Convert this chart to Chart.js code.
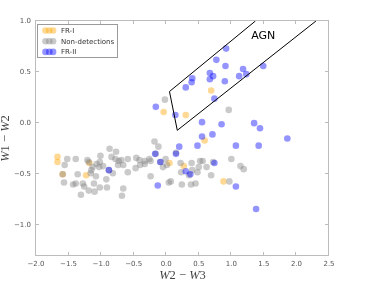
<!DOCTYPE html>
<html lang="en">
<head>
<meta charset="UTF-8">
<title>WISE colour-colour diagram</title>
<script src="https://cdn.jsdelivr.net/npm/chart.js"></script>
<style>
  html, body { margin: 0; padding: 0; background: #fff; }
</style>
</head>
<body>
<canvas id="wiseChart" width="367" height="286"></canvas>
<script>
// FR-I sources
const frIx = [0.69, -0.04, 0.30, 0.59, 0.05, 0.27, 0.88, -1.67, -1.67, -1.18, -1.59, -1.23];
const frIy = [0.32, 0.11, 0.08, -0.17, -0.39, -0.42, -0.57, -0.33, -0.38, -0.39, -0.50, -0.51];

// Non-detections
const nondetX = [-0.02, -0.18, 0.96,
  1.00, 0.52, 0.56, 0.39, 0.72, 1.14, 1.19, 0.62, 0.50, 0.48, 0.40, 0.69, 0.97, 0.45, 0.38, 0.35,
  -0.12, -0.77, -0.59, -0.69, -0.73, -0.46, -0.41, -0.33, -0.26, -0.24, -0.01, 0.01, -0.05, -0.33, -0.40,
  -0.47, -0.74, -0.66, -0.59, 0.22, 0.23, -0.24, 0.07, 0.04, 0.24, -0.66, -0.68,
  -1.52, -1.39, -1.56, -1.21, -1.19, -1.01, -1.02, -1.07, -1.13, -1.03, -0.97, -0.87, -0.84, -0.78, -0.82,
  -1.59, -1.36, -1.15, -1.16, -1.08, -1.57, -1.39, -1.43, -1.28, -1.26, -1.11, -0.92, -1.19, -1.02, -0.91,
  -1.31, -1.10, -0.16, 0.15, -0.09, -0.88];
const nondetY = [0.23, -0.18, 0.13,
  -0.35, -0.37, -0.37, -0.39, -0.38, -0.42, -0.45, -0.43, -0.43, -0.48, -0.46, -0.51, -0.57, -0.59, -0.60, -0.51,
  -0.23, -0.28, -0.35, -0.36, -0.37, -0.34, -0.36, -0.37, -0.35, -0.37, -0.35, -0.41, -0.43, -0.40, -0.41,
  -0.44, -0.41, -0.41, -0.48, -0.39, -0.48, -0.52, -0.57, -0.58, -0.60, -0.64, -0.71,
  -0.35, -0.35, -0.41, -0.36, -0.38, -0.32, -0.38, -0.40, -0.43, -0.43, -0.42, -0.25, -0.33, -0.35, -0.49,
  -0.50, -0.50, -0.46, -0.49, -0.52, -0.58, -0.59, -0.60, -0.59, -0.62, -0.59, -0.55, -0.66, -0.63, -0.63,
  -0.70, -0.67, -0.30, -0.29, -0.38, -0.46];

// FR-II sources
const frIIx = [0.92, 0.77, 0.91, 1.18, 1.49, 0.67, 0.72, 0.67, 1.12, 1.23, 0.90, 0.40, 0.39, 0.30, 0.74,
  -0.16, 0.14, 0.55, 0.85, 1.35, 1.44, 1.86, 0.55, 0.71, 1.42, 0.48, 1.07, 0.20, -0.17, 0.15,
  -0.09, 0.74, -0.88, 0.30, 0.37, -0.13, 1.07, 1.38];
const frIIy = [0.73, 0.62, 0.56, 0.53, 0.56, 0.49, 0.46, 0.43, 0.46, 0.48, 0.41, 0.44, 0.40, 0.35, 0.24,
  0.16, 0.08, 0.01, -0.01, 0.00, -0.05, -0.15, -0.13, -0.11, -0.22, -0.22, -0.22, -0.23, -0.30, -0.30,
  -0.38, -0.39, -0.46, -0.47, -0.50, -0.61, -0.62, -0.84];

// AGN wedge outline
const wedgeX = [1.37, 0.05, 0.17, 2.30];
const wedgeY = [1.00, 0.31, -0.07, 1.00];

const xTicks = [-2.0, -1.5, -1.0, -0.5, 0.0, 0.5, 1.0, 1.5, 2.0, 2.5];
const yTicks = [-1.0, -0.5, 0.0, 0.5, 1.0];

const seriesNames = ['FR-I', 'Non-detections', 'FR-II'];
const seriesColors = ['rgba(255,165,0,0.42)', 'rgba(128,128,128,0.42)', 'rgba(0,0,255,0.42)'];

function pts(xs, ys) {
  return xs.map((v, i) => ({ x: v, y: ys[i] }));
}

function fmt(v) {
  return (v < 0 ? '\u2212' : '') + Math.abs(v).toFixed(1);
}

const tickFont = { family: 'DejaVu Sans', size: 7 };

// spines with inward ticks, legend, axis labels and the AGN tag
const decorations = {
  id: 'decorations',
  afterDatasetsDraw(chart) {
    const { ctx, chartArea: a, scales } = chart;
    ctx.save();

    // frame
    ctx.strokeStyle = '#bcbcbc';
    ctx.lineWidth = 1;
    ctx.strokeRect(a.left - 0.5, a.top - 0.5, a.width, a.height);
    ctx.beginPath();
    xTicks.forEach(v => {
      const px = Math.round(scales.x.getPixelForValue(v)) - 0.5;
      ctx.moveTo(px, a.bottom - 0.5); ctx.lineTo(px, a.bottom - 4);
      ctx.moveTo(px, a.top - 0.5); ctx.lineTo(px, a.top + 3);
    });
    yTicks.forEach(v => {
      const py = Math.round(scales.y.getPixelForValue(v)) - 0.5;
      ctx.moveTo(a.left - 0.5, py); ctx.lineTo(a.left + 3, py);
      ctx.moveTo(a.right - 0.5, py); ctx.lineTo(a.right - 4, py);
    });
    ctx.stroke();

    // AGN tag
    ctx.fillStyle = '#000';
    ctx.font = '11px "DejaVu Sans"';
    ctx.textAlign = 'center';
    ctx.textBaseline = 'middle';
    ctx.fillText('AGN', scales.x.getPixelForValue(1.49), scales.y.getPixelForValue(0.85));

    // legend
    const lx = a.left + 1.5, ly = a.top + 3.5, lw = 80, lh = 33;
    ctx.fillStyle = '#fff';
    ctx.fillRect(lx, ly, lw, lh);
    ctx.strokeStyle = '#9a9a9a';
    ctx.strokeRect(lx, ly, lw, lh);
    ctx.font = '7px "DejaVu Sans"';
    ctx.textAlign = 'left';
    seriesNames.forEach((name, i) => {
      const ry = ly + 6 + i * 10.7;
      [0, 3.8, 7.6].forEach(dx => {
        ctx.beginPath();
        ctx.fillStyle = seriesColors[i];
        ctx.arc(lx + 8 + dx, ry, 3.3, 0, Math.PI * 2);
        ctx.fill();
      });
      ctx.fillStyle = '#333';
      ctx.fillText(name, lx + 23.5, ry + 0.5);
    });

    // axis titles
    const parts = (a, b) => [
      { t: 'W', it: true }, { t: a }, { t: ' \u2212 ' }, { t: 'W', it: true }, { t: b }
    ];
    function drawMath(segs, cx, cy) {
      const f = it => (it ? 'italic ' : '') + '12.5px "Liberation Serif"';
      let w = 0;
      segs.forEach(s => { ctx.font = f(s.it); w += ctx.measureText(s.t).width; });
      let x = cx - w / 2;
      segs.forEach(s => {
        ctx.font = f(s.it);
        ctx.fillText(s.t, x, cy);
        x += ctx.measureText(s.t).width;
      });
    }
    ctx.fillStyle = '#444';
    ctx.textAlign = 'left';
    ctx.textBaseline = 'middle';
    drawMath(parts('2', '3'), (a.left + a.right) / 2, 276);
    ctx.translate(6, (a.top + a.bottom) / 2);
    ctx.rotate(-Math.PI / 2);
    drawMath(parts('1', '2'), 0, 0);

    ctx.restore();
  }
};

const dotStyle = { pointRadius: 3.3, pointBorderWidth: 0, pointHoverRadius: 3.3, pointHoverBorderWidth: 0, borderWidth: 0 };

new Chart(document.getElementById('wiseChart'), {
  type: 'scatter',
  data: {
    datasets: [
      {
        label: 'AGN wedge',
        data: pts(wedgeX, wedgeY),
        showLine: true,
        borderColor: '#000',
        borderWidth: 1,
        pointRadius: 0,
        order: 0
      },
      Object.assign({
        label: seriesNames[2],
        data: pts(frIIx, frIIy),
        backgroundColor: seriesColors[2],
        pointBackgroundColor: seriesColors[2],
        order: 1
      }, dotStyle),
      Object.assign({
        label: seriesNames[1],
        data: pts(nondetX, nondetY),
        backgroundColor: seriesColors[1],
        pointBackgroundColor: seriesColors[1],
        order: 2
      }, dotStyle),
      Object.assign({
        label: seriesNames[0],
        data: pts(frIx, frIy),
        backgroundColor: seriesColors[0],
        pointBackgroundColor: seriesColors[0],
        order: 3
      }, dotStyle)
    ]
  },
  options: {
    responsive: false,
    animation: false,
    devicePixelRatio: 1,
    layout: { padding: { top: 21, right: 38, left: 0, bottom: 0 } },
    plugins: {
      legend: { display: false },
      tooltip: { enabled: false }
    },
    scales: {
      x: {
        type: 'linear',
        min: -2,
        max: 2.5,
        afterBuildTicks: s => { s.ticks = xTicks.map(v => ({ value: v })); },
        afterFit: s => { s.height = 30; },
        grid: { display: false, drawTicks: false },
        border: { display: false },
        ticks: { font: tickFont, color: '#555', padding: 4, maxRotation: 0, autoSkip: false, callback: v => fmt(v) }
      },
      y: {
        type: 'linear',
        min: -1.3,
        max: 1.0,
        afterBuildTicks: s => { s.ticks = yTicks.map(v => ({ value: v })); },
        afterFit: s => { s.width = 36; },
        grid: { display: false, drawTicks: false },
        border: { display: false },
        ticks: { font: tickFont, color: '#555', padding: 5, autoSkip: false, callback: v => fmt(v) }
      }
    }
  },
  plugins: [decorations]
});
</script>
</body>
</html>
